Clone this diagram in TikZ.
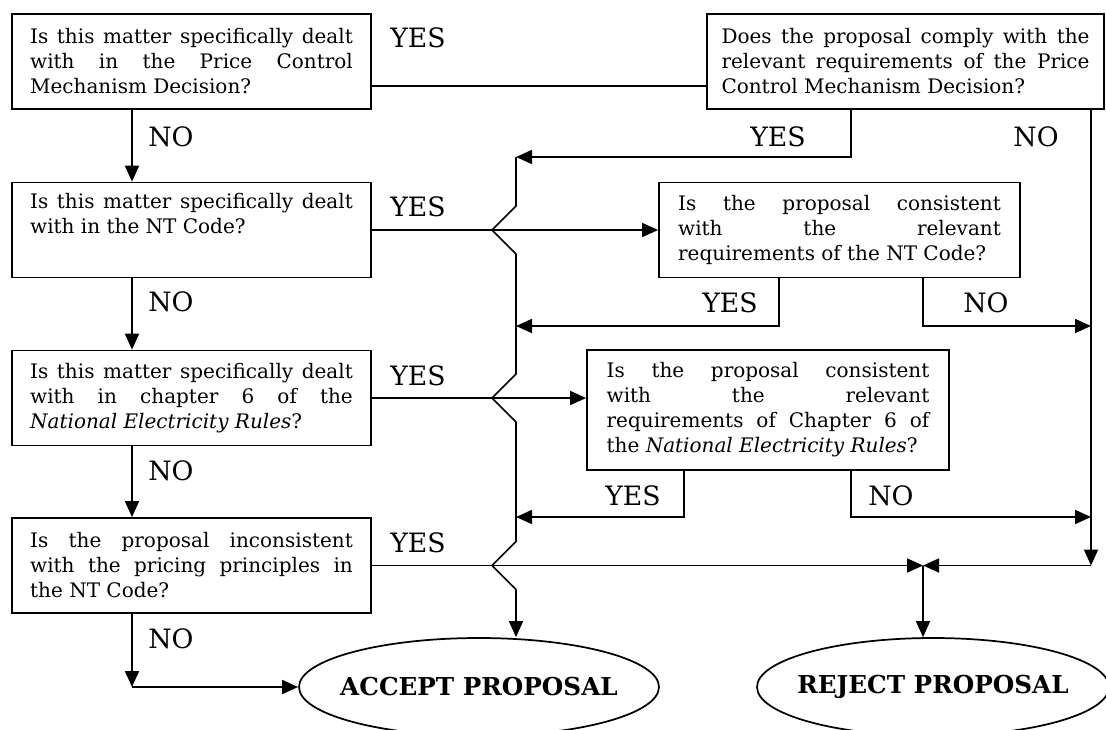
\documentclass[tikz,border=0pt]{standalone}
\usepackage{fontspec}
\setmainfont{DejaVu Serif}
\usetikzlibrary{arrows.meta,shapes.geometric}

\newcommand{\qtext}[2][242pt]{\parbox{#1}{\tolerance=10000\hbadness=10000\hyphenpenalty=10000 #2}}

\begin{document}
\begin{tikzpicture}[x=0.75pt,y=-0.75pt,line width=1.3pt,
  font=\fontsize{15}{18.75}\selectfont,
  qbox/.style={draw,rectangle,inner xsep=13.6pt,minimum width=269.25pt,minimum height=71.25pt},
  endbox/.style={draw,ellipse,inner sep=0pt,minimum width=270pt,minimum height=73.5pt,font=\fontsize{18.5}{22}\selectfont\bfseries},
  lbl/.style={font=\fontsize{20}{24}\selectfont},
  arr/.style={-{Triangle[length=12pt,width=10.5pt]}}]
\useasboundingbox (0,0) rectangle (1106,729);

% questions down the left side
\node[qbox] (q1) at (191.5,61.5) {\qtext{Is this matter specifically dealt\linebreak with in the Price Control\linebreak Mechanism Decision?}};
\node[qbox] (q2) at (191.5,230) {\qtext{Is this matter specifically dealt\linebreak with in the NT Code?\\\strut}};
\node[qbox] (q3) at (191.5,398) {\qtext{Is this matter specifically dealt\linebreak with in chapter 6 of the\linebreak \emph{National Electricity Rules}?}};
\node[qbox] (q4) at (191.5,565.5) {\qtext{Is the proposal inconsistent\linebreak with the pricing principles in\linebreak the NT Code?}};

% compliance checks
\node[qbox,inner xsep=10pt,minimum width=297.75pt] (c1) at (905.5,61.5) {\qtext[276pt]{Does the proposal comply with the\linebreak relevant requirements of the Price\linebreak Control Mechanism Decision?}};
\node[qbox,minimum width=270.75pt] (c2) at (839.5,230) {\qtext{Is the proposal consistent\linebreak with the relevant\linebreak requirements of the NT Code?}};
\node[qbox,minimum width=271.5pt,minimum height=90pt] (c3) at (768,410) {\qtext{Is the proposal consistent\linebreak with the relevant\linebreak requirements of Chapter 6 of\linebreak the \emph{National Electricity Rules}?}};

% outcomes
\node[endbox] (acc) at (479,687) {\makebox[0pt]{ACCEPT PROPOSAL}};
\node[endbox,minimum width=264pt] (rej) at (933,687) {\makebox[0pt]{REJECT PROPOSAL}};

% bus lines
\coordinate (nox) at (132,0);
\coordinate (lbx) at (516,0);
\coordinate (rbx) at (1091,0);
\coordinate (toprow) at (0,86);
\coordinate (lb1) at (516,157);
\coordinate (lb2) at (516,326);
\coordinate (lb3) at (516,517);
\coordinate (rb2) at (1091,326);
\coordinate (rb3) at (1091,517);
\coordinate (join) at (923,565.5);
\coordinate (rjoin) at (1091,565.5);

% NO down the left
\draw[arr] (q1.south -| nox) -- (q2.north -| nox);
\draw[arr] (q2.south -| nox) -- (q3.north -| nox);
\draw[arr] (q3.south -| nox) -- (q4.north -| nox);
\draw[arr] (q4.south -| nox) -- (nox |- acc.west);
\draw[arr] (nox |- acc.west) -- (acc.west);

% YES to the right
\draw (q1.east |- toprow) -- (c1.west |- toprow);
\draw[arr] (q2.east) -- (c2.west);
\draw[arr] (q3.east) -- (q3.east -| c3.west);
\draw[arr] (q4.east) -- (join);

% answers of the checks
\draw[arr] (c1.south -| 851,0) |- (lb1);
\draw[arr] (c2.south -| 779,0) |- (lb2);
\draw[arr] (c2.south -| 923,0) |- (rb2);
\draw[arr] (c3.south -| 684,0) |- (lb3);
\draw[arr] (c3.south -| 851,0) |- (rb3);

% accept bus, hopping over the YES lines
\draw[arr] (lb1) -- (lbx |- 0,206) -- ++(-24,24) -- ++(24,24)
  -- (lbx |- 0,374) -- ++(-24,24) -- ++(24,24)
  -- (lbx |- 0,541.5) -- ++(-24,24) -- ++(24,24) -- (lbx |- acc.north);

% reject bus
\draw[arr] (c1.south -| rbx) -- (rjoin);
\draw[arr] (rjoin) -- (join);
\draw[arr] (join) -- (join |- rej.north);

% labels
\node[lbl] (y1) at (418,38) {YES};
\node[lbl] (n1) at (171,137) {NO};
\node[lbl] (y1c) at (778,137) {YES};
\node[lbl] (n1c) at (1036,137) {NO};
\node[lbl] (y2) at (418,207) {YES};
\node[lbl] (n2) at (171,302) {NO};
\node[lbl] (y2c) at (730,303) {YES};
\node[lbl] (n2c) at (986,303) {NO};
\node[lbl] (y3) at (418,376) {YES};
\node[lbl] (n3) at (171,471) {NO};
\node[lbl] (y3c) at (633,496) {YES};
\node[lbl] (n3c) at (891,496) {NO};
\node[lbl] (y4) at (418,543) {YES};
\node[lbl] (n4) at (171,639) {NO};
\end{tikzpicture}
\end{document}
